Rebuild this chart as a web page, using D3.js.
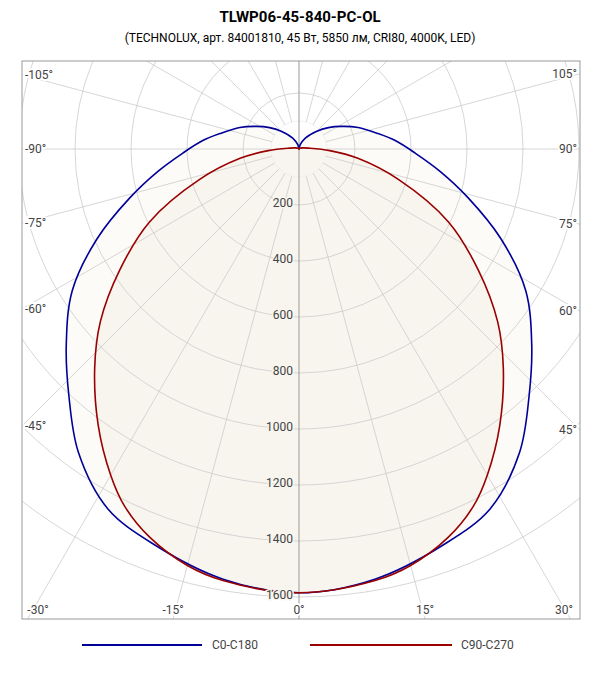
<!DOCTYPE html>
<html><head><meta charset="utf-8">
<script src="https://cdn.jsdelivr.net/npm/d3@7"></script>
<style>body{margin:0;background:#fff;font-family:Roboto,sans-serif}</style>
</head><body><div id="canvas"></div>
<script>
var title = "TLWP06-45-840-PC-OL";
var subtitle = "(TECHNOLUX, арт. 84001810, 45 Вт, 5850 лм, CRI80, 4000K, LED)";
var seriesNames = ["C0-C180", "C90-C270"];
var seriesColors = ["#000099", "#990000"];
// angle (deg from nadir) / intensity (cd)
var c0Angles = [0, 10, 20, 28, 36, 43, 50, 58, 66, 74, 81, 88, 95, 101, 110, 118, 126, 135, 150, 165, 180];
var c0Values = [1585, 1560, 1505, 1455, 1340, 1205, 1085, 955, 790, 627, 510, 415, 345, 288, 225, 172, 130, 90, 45, 15, 0];
var c90Angles = [0, 10, 15, 21, 26, 30, 36, 43, 49, 56, 64, 73, 81, 87, 95, 110, 130, 180];
var c90Values = [1585, 1565, 1540, 1486, 1420, 1345, 1220, 1070, 940, 772, 594, 371, 213, 110, 35, 12, 4, 0];
var ringValues = [200, 400, 600, 800, 1000, 1200, 1400, 1600];
var angleTicks = [-105, -90, -75, -60, -45, -30, -15, 0, 15, 30, 45, 60, 75, 90, 105];

var W = 600, H = 680;
var fx0 = 22, fx1 = 580, fy0 = 61, fy1 = 619;
var cx = 299, cy = 149;
var svg = d3.select("#canvas").append("svg").attr("width", W).attr("height", H);

svg.append("text").attr("x", 300).attr("y", 22).attr("text-anchor", "middle")
  .attr("font-weight", "bold").attr("font-size", 15).text(title);
svg.append("text").attr("x", 300).attr("y", 42).attr("text-anchor", "middle")
  .attr("font-size", 12).text(subtitle);

var r = d3.scaleLinear().domain([0, 1600]).range([0, 448]);
svg.append("defs").append("clipPath").attr("id", "clip").append("rect")
  .attr("x", fx0).attr("y", fy0).attr("width", fx1 - fx0).attr("height", fy1 - fy0);
var g = svg.append("g").attr("clip-path", "url(#clip)");

function pt(a, v) {
  var t = a * Math.PI / 180;
  return [cx + r(v) * Math.sin(t), cy + r(v) * Math.cos(t)];
}
function fullCurve(angles, values) {
  var pts = [];
  for (var i = angles.length - 1; i >= 0; i--) pts.push(pt(-angles[i], values[i]));
  for (var j = 1; j < angles.length - 1; j++) pts.push(pt(angles[j], values[j]));
  return pts;
}
var line = d3.line().curve(d3.curveCatmullRomClosed);
var c0 = fullCurve(c0Angles, c0Values), c90 = fullCurve(c90Angles, c90Values);

g.append("path").attr("d", line(c0)).attr("fill", "#fcfbf8");
g.append("path").attr("d", line(c90)).attr("fill", "#f8f5ef");

// grid
ringValues.concat([2000, 2400]).forEach(function(v) {
  g.append("circle").attr("cx", cx).attr("cy", cy).attr("r", r(v))
    .attr("fill", "none").attr("stroke", "#cccccc").attr("stroke-width", 0.8);
});
g.append("circle").attr("cx", cx).attr("cy", cy).attr("r", r(100))
  .attr("fill", "none").attr("stroke", "#eeeeee").attr("stroke-width", 0.8);
for (var a = -165; a < 180; a += 15) {
  if (a === 0) continue;
  var p0 = pt(a, 100), p1 = pt(a, 3000);
  g.append("line").attr("x1", p0[0]).attr("y1", p0[1]).attr("x2", p1[0]).attr("y2", p1[1])
    .attr("stroke", "#cccccc").attr("stroke-width", 0.8);
}
g.append("line").attr("x1", cx).attr("x2", cx).attr("y1", fy0).attr("y2", fy1)
  .attr("stroke", "#999").attr("stroke-width", 1);

g.append("path").attr("d", line(c0)).attr("fill", "none").attr("stroke", seriesColors[0]).attr("stroke-width", 1.6);
g.append("path").attr("d", line(c90)).attr("fill", "none").attr("stroke", seriesColors[1]).attr("stroke-width", 1.6);

svg.append("rect").attr("x", fx0).attr("y", fy0).attr("width", fx1 - fx0).attr("height", fy1 - fy0)
  .attr("fill", "none").attr("stroke", "#999").attr("stroke-width", 1);

ringValues.forEach(function(v) {
  svg.append("text").attr("x", cx - 6).attr("y", cy + r(v) - 2).attr("dy", "0.35em")
    .attr("text-anchor", "end").attr("font-size", 12).attr("fill", "#444")
    .style("paint-order", "stroke").attr("stroke", "#f8f5ef").attr("stroke-width", 3).text(v);
});

angleTicks.forEach(function(a) {
  var t = Math.abs(a) * Math.PI / 180, side = a < 0 ? -1 : 1;
  var dyb = fy1 - cy, dxs = (side < 0 ? cx - fx0 : fx1 - cx);
  var x, y, anchor;
  var label = a + "°";
  if (Math.abs(a) <= 30) {
    x = cx + side * Math.tan(t) * dyb;
    x = Math.max(fx0 + 16, Math.min(fx1 - 16, x));
    y = fy1 - 9; anchor = "middle";
  } else {
    y = cy + dxs / Math.tan(t);
    y = Math.max(fy0 + 10, y);
    x = side < 0 ? fx0 + 3 : fx1 - 3; anchor = side < 0 ? "start" : "end";
  }
  svg.append("text").attr("x", x).attr("y", y).attr("dy", "0.35em").attr("text-anchor", anchor)
    .attr("font-size", 12).attr("fill", "#444")
    .style("paint-order", "stroke").attr("stroke", "#fff").attr("stroke-width", 4).text(label);
});

// legend
[[82, 202, 212], [310, 452, 461]].forEach(function(l, i) {
  svg.append("line").attr("x1", l[0]).attr("x2", l[1]).attr("y1", 645).attr("y2", 645)
    .attr("stroke", seriesColors[i]).attr("stroke-width", 2);
  svg.append("text").attr("x", l[2]).attr("y", 645).attr("dy", "0.35em").attr("font-size", 12)
    .attr("fill", "#444").text(seriesNames[i]);
});
</script></body></html>
